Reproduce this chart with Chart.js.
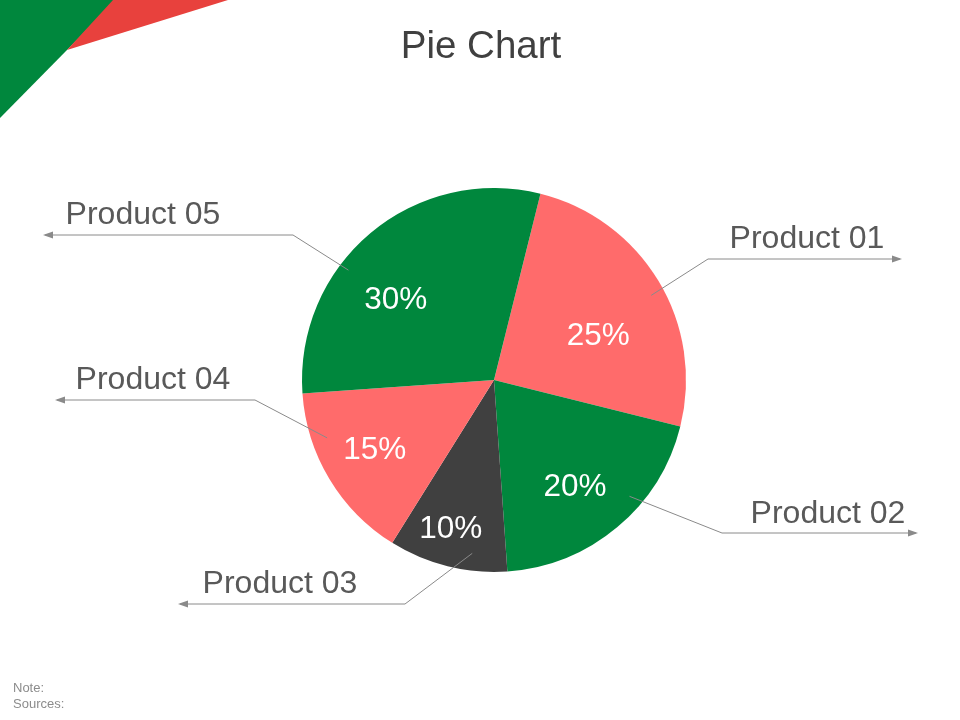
<!DOCTYPE html>
<html>
<head>
<meta charset="utf-8">
<script src="https://cdn.jsdelivr.net/npm/chart.js@4"></script>
<style>
  html, body { margin: 0; padding: 0; background: #fff; }
  #wrap { width: 960px; height: 720px; position: relative; }
  #pizza { width: 960px; height: 720px; display: block; }
</style>
</head>
<body>
<div id="wrap"><canvas id="pizza" width="960" height="720"></canvas></div>
<script>
// dados do grafico
const produtos = ['Product 01', 'Product 02', 'Product 03', 'Product 04', 'Product 05'];
const percentuais = [25, 20, 10, 15, 30];
const cores = ['#FF6B6B', '#00873D', '#404040', '#FF6B6B', '#00873D'];

// posicao dos textos e linhas de chamada (layout, nao dados)
const chamadas = [
    {frac: 0.53, r: 0.93, cotovelo: [708, 259], fim: 900, texto: [807, 239]},
    {frac: 0.37, r: 0.93, cotovelo: [722, 533], fim: 916, texto: [828, 514]},
    {frac: 0.31, r: 0.91, cotovelo: [405, 604], fim: 180, texto: [280, 584]},
    {frac: 0.72, r: 0.92, cotovelo: [255, 400], fim: 57, texto: [153, 380]},
    {frac: 0.38, r: 0.95, cotovelo: [293, 235], fim: 45, texto: [143, 215]}
];
const rotulos_pos = [
    {frac: 0.59, r: 0.59},
    {frac: 0.54, r: 0.70},
    {frac: 0.56, r: 0.81},
    {frac: 0.51, r: 0.72},
    {frac: 0.40, r: 0.66}
];

const fonte = '"Liberation Sans", Arial, sans-serif';

function ponto(arc, frac, r){
    let ang = arc.startAngle + (arc.endAngle - arc.startAngle) * frac;
    return [arc.x + Math.cos(ang) * arc.outerRadius * r, arc.y + Math.sin(ang) * arc.outerRadius * r];
}

const enfeites = {
    id: 'enfeites',
    beforeDraw(chart){
        const ctx = chart.ctx;
        ctx.save();
        ctx.fillStyle = '#00873D';
        ctx.beginPath();
        ctx.moveTo(0, 0); ctx.lineTo(116, 0); ctx.lineTo(67, 50); ctx.lineTo(0, 118);
        ctx.closePath(); ctx.fill();
        ctx.fillStyle = '#E8413D';
        ctx.beginPath();
        ctx.moveTo(113, 0); ctx.lineTo(228, 0); ctx.lineTo(67, 50);
        ctx.closePath(); ctx.fill();

        ctx.fillStyle = '#404040';
        ctx.font = '38.5px ' + fonte;
        ctx.textAlign = 'center';
        ctx.textBaseline = 'alphabetic';
        ctx.fillText('Pie Chart', 481, 58);

        ctx.fillStyle = '#8c8c8c';
        ctx.font = '13px ' + fonte;
        ctx.textAlign = 'left';
        ctx.fillText('Note:', 13, 692);
        ctx.fillText('Sources:', 13, 708);
        ctx.restore();
    },
    afterDatasetsDraw(chart){
        const ctx = chart.ctx;
        const arcs = chart.getDatasetMeta(0).data;
        ctx.save();
        arcs.forEach(function(arc, i){
            // percentuais dentro das fatias
            let p = ponto(arc, rotulos_pos[i].frac, rotulos_pos[i].r);
            ctx.fillStyle = '#ffffff';
            ctx.font = '31.5px ' + fonte;
            ctx.textAlign = 'center';
            ctx.textBaseline = 'middle';
            ctx.fillText(percentuais[i] + '%', p[0], p[1]);

            // linha de chamada com seta
            let c = chamadas[i];
            let a = ponto(arc, c.frac, c.r);
            ctx.strokeStyle = '#8a8a8a';
            ctx.lineWidth = 1;
            ctx.beginPath();
            ctx.moveTo(a[0], a[1]);
            ctx.lineTo(c.cotovelo[0], c.cotovelo[1]);
            ctx.lineTo(c.fim, c.cotovelo[1]);
            ctx.stroke();
            let dir = c.fim > c.cotovelo[0] ? 1 : -1;
            ctx.fillStyle = '#8a8a8a';
            ctx.beginPath();
            ctx.moveTo(c.fim + dir * 2, c.cotovelo[1]);
            ctx.lineTo(c.fim - dir * 8, c.cotovelo[1] - 3.5);
            ctx.lineTo(c.fim - dir * 8, c.cotovelo[1] + 3.5);
            ctx.closePath(); ctx.fill();

            ctx.fillStyle = '#595959';
            ctx.font = '32px ' + fonte;
            ctx.fillText(produtos[i], c.texto[0], c.texto[1]);
        });
        ctx.restore();
    }
};

const ctx = document.getElementById('pizza').getContext('2d');
const myChart = new Chart(ctx, {
    type: 'pie',
    data: {
        labels: produtos,
        datasets: [{
            label: 'Percentual',
            data: percentuais,
            backgroundColor: cores,
            borderWidth: 0
        }]
    },
    options: {
        responsive: false,
        animation: false,
        rotation: 14,
        layout: {
            padding: {top: 188, bottom: 148, left: 302, right: 274}
        },
        plugins: {
            legend: {display: false},
            tooltip: {enabled: false}
        }
    },
    plugins: [enfeites]
});
</script>
</body>
</html>
